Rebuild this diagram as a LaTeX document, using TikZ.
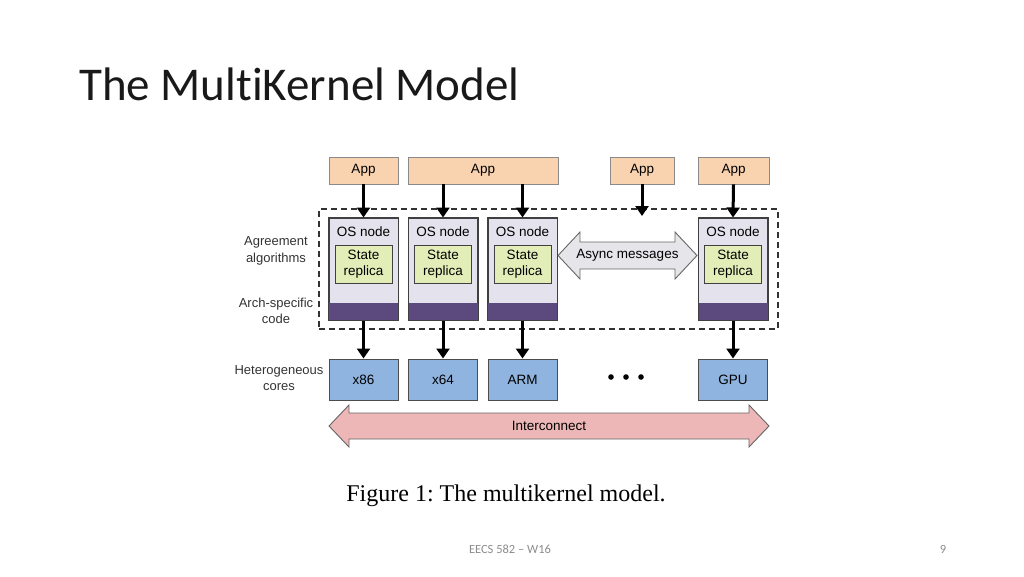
\documentclass[tikz,border=0pt]{standalone}
\usepackage{fontspec}
\setmainfont{Liberation Sans}
\newfontfamily\titlefont[Ligatures=NoCommon]{Carlito}
\newfontfamily\capfont{Liberation Serif}
\usetikzlibrary{arrows.meta}
\definecolor{appfill}{HTML}{F9D3B0}
\definecolor{appborder}{HTML}{8A8A8A}
\definecolor{osfill}{HTML}{E4E2EC}
\definecolor{purpleband}{HTML}{5C4A7F}
\definecolor{statefill}{HTML}{E2EDB8}
\definecolor{corefill}{HTML}{8FB4DF}
\definecolor{asyncfill}{HTML}{E6E6EA}
\definecolor{interfill}{HTML}{EDB7B7}
\definecolor{labelgray}{HTML}{333333}
\definecolor{footgray}{HTML}{8C8C8C}
\tikzset{
  dfont/.style={font=\fontsize{13.5}{15}\selectfont},
  app/.style={draw=appborder, fill=appfill, line width=0.8pt, minimum height=27pt, inner sep=0pt, dfont},
  osbox/.style={draw=black!75, fill=osfill, line width=1pt, minimum width=69pt, minimum height=102pt, inner sep=0pt},
  state/.style={draw=black!75, fill=statefill, line width=1pt, minimum width=57pt, minimum height=38pt, inner sep=0pt, align=center, font=\fontsize{13.5}{16.5}\selectfont},
  core/.style={draw=black!70, fill=corefill, line width=1pt, minimum width=69pt, minimum height=41pt, inner sep=0pt, dfont},
  arr/.style={line width=3pt, -{Triangle[length=10pt,width=13pt]}},
  sidelabel/.style={align=center, text=labelgray, font=\fontsize{13}{16.5}\selectfont},
  bigarrow/.style={draw=black!60, line width=0.9pt, line join=miter},
}
\begin{document}
\begin{tikzpicture}[x=1pt,y=-1pt]
\useasboundingbox (0,0) rectangle (1024,576);

% title
\node[anchor=base west, inner sep=0pt, font=\titlefont\fontsize{47}{50}\selectfont, text=black!90] (title) at (79,100) {The MultiKernel Model};

% dashed frame
\node[draw=black!80, dashed, dash pattern=on 6pt off 4pt, line width=1.4pt, minimum width=459pt, minimum height=120pt, inner sep=0pt] (frame) at (548.5,269) {};

% apps
\node[app, minimum width=69pt] (app1) at (363.5,170.5) {App};
\node[app, minimum width=150pt] (app2) at (483,170.5) {App};
\node[app, minimum width=64pt] (app3) at (642,170.5) {App};
\node[app, minimum width=71pt] (app4) at (733.5,170.5) {App};

% OS nodes
\foreach \n/\x in {1/363.5, 2/443, 3/522.5, 4/733} {
  \node[osbox] (os\n) at (\x,269) {};
  \fill[purpleband] ([xshift=0.5pt,yshift=-0.5pt]os\n.south west) rectangle ([xshift=-0.5pt,yshift=18pt]os\n.south east);
  \draw[black!75, line width=1pt] (os\n.south west) rectangle (os\n.north east);
  \node[dfont, anchor=base] (osl\n) at (\x,236) {OS node};
  \node[state] (st\n) at (\x,264) {State\\replica};
}

% async messages double arrow
\path[bigarrow, fill=asyncfill]
  (558,255.5) -- (580,232) -- (580,242) -- (675,242) -- (675,232) -- (697,255.5)
  -- (675,279) -- (675,269) -- (580,269) -- (580,279) -- cycle;
\node[dfont] (async) at (627.5,255) {Async messages};

% cores
\node[core] (c1) at (363.5,379.5) {x86};
\node[core] (c2) at (443,379.5) {x64};
\node[core] (c3) at (522.5,379.5) {ARM};
\node[core] (c4) at (733,379.5) {GPU};

% dots
\fill (611,377) circle (2.8pt) (626,377) circle (2.8pt) (641,377) circle (2.8pt);

% interconnect
\path[bigarrow, fill=interfill]
  (329,426) -- (349,405) -- (349,413) -- (749,413) -- (749,405) -- (769,426)
  -- (749,447) -- (749,439) -- (349,439) -- (349,447) -- cycle;
\node[dfont] (inter) at (549,426) {Interconnect};

% arrows app -> os
\coordinate (a3end) at (642,216);
\draw[arr] (app1.south) -- (os1.north);
\draw[arr] (app2.south -| os2.north) -- (os2.north);
\draw[arr] (app2.south -| os3.north) -- (os3.north);
\draw[arr] (app3.south) -- (a3end);
\draw[arr] (app4.south) -- (os4.north);

% arrows os -> cores
\draw[arr] (os1.south) -- (c1.north);
\draw[arr] (os2.south) -- (c2.north);
\draw[arr] (os3.south) -- (c3.north);
\draw[arr] (os4.south) -- (c4.north);

% side labels
\node[sidelabel] (agree) at (276,251) {Agreement\\algorithms};
\node[sidelabel] (arch) at (276,311) {Arch-specific\\code};
\node[sidelabel] (hetero) at (279,378) {Heterogeneous\\cores};

% caption
\node[anchor=base, inner sep=0pt, font=\capfont\fontsize{24}{27}\selectfont\frenchspacing] (caption) at (506,501) {Figure 1: The multikernel model.};

% footer
\node[anchor=base, inner sep=0pt, font=\titlefont\fontsize{12.5}{14}\selectfont, text=footgray] (foot) at (510,553) {EECS 582 – W16};
\node[anchor=base, inner sep=0pt, font=\titlefont\fontsize{12.5}{14}\selectfont, text=footgray] (page) at (943,553) {9};
\end{tikzpicture}
\end{document}
